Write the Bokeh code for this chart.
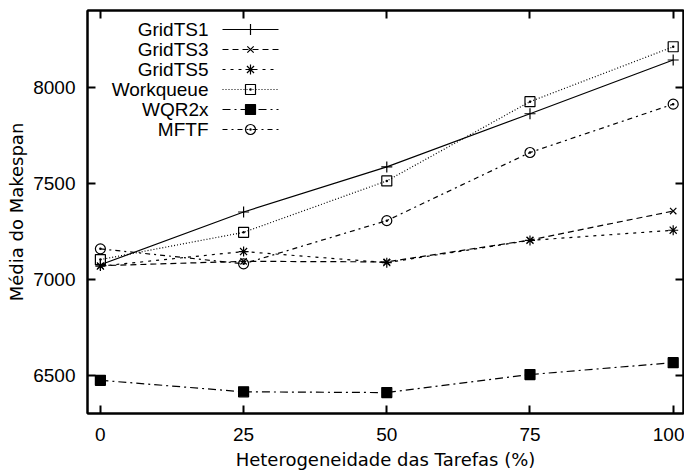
from bokeh.plotting import figure
from bokeh.models import LinearAxis, Range1d, FixedTicker
from bokeh.core.properties import value
from bokeh.embed import file_html
from bokeh.resources import INLINE

# ---- data ----
heterogeneity = [0, 25, 50, 75, 100]
gridts1 = [7075, 7350, 7585, 7862, 8142]
gridts3 = [7070, 7093, 7090, 7204, 7355]
gridts5 = [7068, 7144, 7086, 7202, 7255]
workqueue = [7102, 7244, 7512, 7925, 8211]
wqr2x = [6473, 6413, 6409, 6503, 6565]
mftf = [7158, 7080, 7305, 7660, 7912]
series_names = ["GridTS1", "GridTS3", "GridTS5", "Workqueue", "WQR2x", "MFTF"]
series_values = [gridts1, gridts3, gridts5, workqueue, wqr2x, mftf]
x_ticks = [0, 25, 50, 75, 100]
y_ticks = [6500, 7000, 7500, 8000]

# ---- styles ----
styles = [
    dict(dash="solid", marker="cross", size=11, fill=None),
    dict(dash="6 4", marker="x", size=9, fill=None),
    dict(dash="3 5", marker="asterisk", size=10, fill=None),
    dict(dash="1 2", marker="square_dot", size=10, fill=None),
    dict(dash="8 4 2 4", marker="square", size=10, fill="black"),
    dict(dash="5 4 2 4", marker="circle_dot", size=10, fill=None),
]

X0, X1 = -2.25, 101.8
Y0, Y1 = 6300, 8400
W, H = 684, 474
BL, BR, BT, BB = 87, 1, 10, 61
FW, FH = W - BL - BR, H - BT - BB

TICK_FONT = "Liberation Sans"
LABEL_FONT = "DejaVu Sans"

p = figure(width=W, height=H, x_range=Range1d(X0, X1), y_range=Range1d(Y0, Y1),
           output_backend="svg", toolbar_location=None,
           x_axis_label="Heterogeneidade das Tarefas (%)",
           y_axis_label="Média do Makespan")
p.min_border_left = BL
p.min_border_right = BR
p.min_border_top = BT
p.min_border_bottom = BB
p.grid.visible = False
p.outline_line_color = "black"
p.outline_line_width = 2
p.outline_line_alpha = 1
p.background_fill_color = "white"
p.border_fill_color = "white"

for ax, ticks in ((p.xaxis[0], x_ticks), (p.yaxis[0], y_ticks)):
    ax.ticker = FixedTicker(ticks=ticks)
    ax.major_tick_in = 8
    ax.major_tick_out = 0
    ax.minor_tick_in = 0
    ax.minor_tick_out = 0
    ax.major_tick_line_width = 2
    ax.axis_line_width = 2
    ax.axis_line_color = "black"
    ax.major_tick_line_color = "black"
    ax.major_label_text_font = TICK_FONT
    ax.major_label_text_font_size = "19px"
    ax.major_label_text_color = "black"
    ax.axis_label_text_font = LABEL_FONT
    ax.axis_label_text_font_size = "18px"
    ax.axis_label_text_font_style = "normal"
    ax.axis_label_text_color = "black"

p.xaxis[0].major_label_standoff = 14
p.xaxis[0].axis_label_standoff = 5
p.yaxis[0].major_label_standoff = 12
p.yaxis[0].axis_label_standoff = 3

# mirror axes (ticks only, empty labels)
for loc, ticks in (("right", y_ticks), ("above", x_ticks)):
    ax = LinearAxis(ticker=FixedTicker(ticks=ticks), major_tick_in=8, major_tick_out=0,
                    minor_tick_in=0, minor_tick_out=0, major_tick_line_width=2,
                    axis_line_width=2, major_label_standoff=0,
                    major_label_overrides={t: "" for t in ticks})
    p.add_layout(ax, loc)

for vals, st in zip(series_values, styles):
    p.line(heterogeneity, vals, line_color="black", line_width=1.2, line_dash=st["dash"])
    p.scatter(heterogeneity, vals, marker=st["marker"], size=st["size"],
              line_color="black", line_width=1.2,
              fill_color=st["fill"], fill_alpha=1 if st["fill"] else 0)

# ---- legend (top-left, labels right-aligned, sample to the right) ----
def dx(px):
    return X0 + px / FW * (X1 - X0)

def dy(py):
    return Y1 - py / FH * (Y1 - Y0)

for i, (name, st) in enumerate(zip(series_names, styles)):
    yy = dy(19 + 20 * i)
    p.text(x=[dx(121)], y=[yy], text=[name], text_align="right", text_baseline="middle",
           text_font=value(TICK_FONT), text_font_size="19px", text_color="black")
    p.line([dx(135), dx(191)], [yy, yy], line_color="black", line_width=1.2,
           line_dash=st["dash"])
    p.scatter([dx(163)], [yy], marker=st["marker"], size=st["size"], line_color="black",
              line_width=1.2, fill_color=st["fill"], fill_alpha=1 if st["fill"] else 0)

open("out.html", "w").write(file_html(p, INLINE))
